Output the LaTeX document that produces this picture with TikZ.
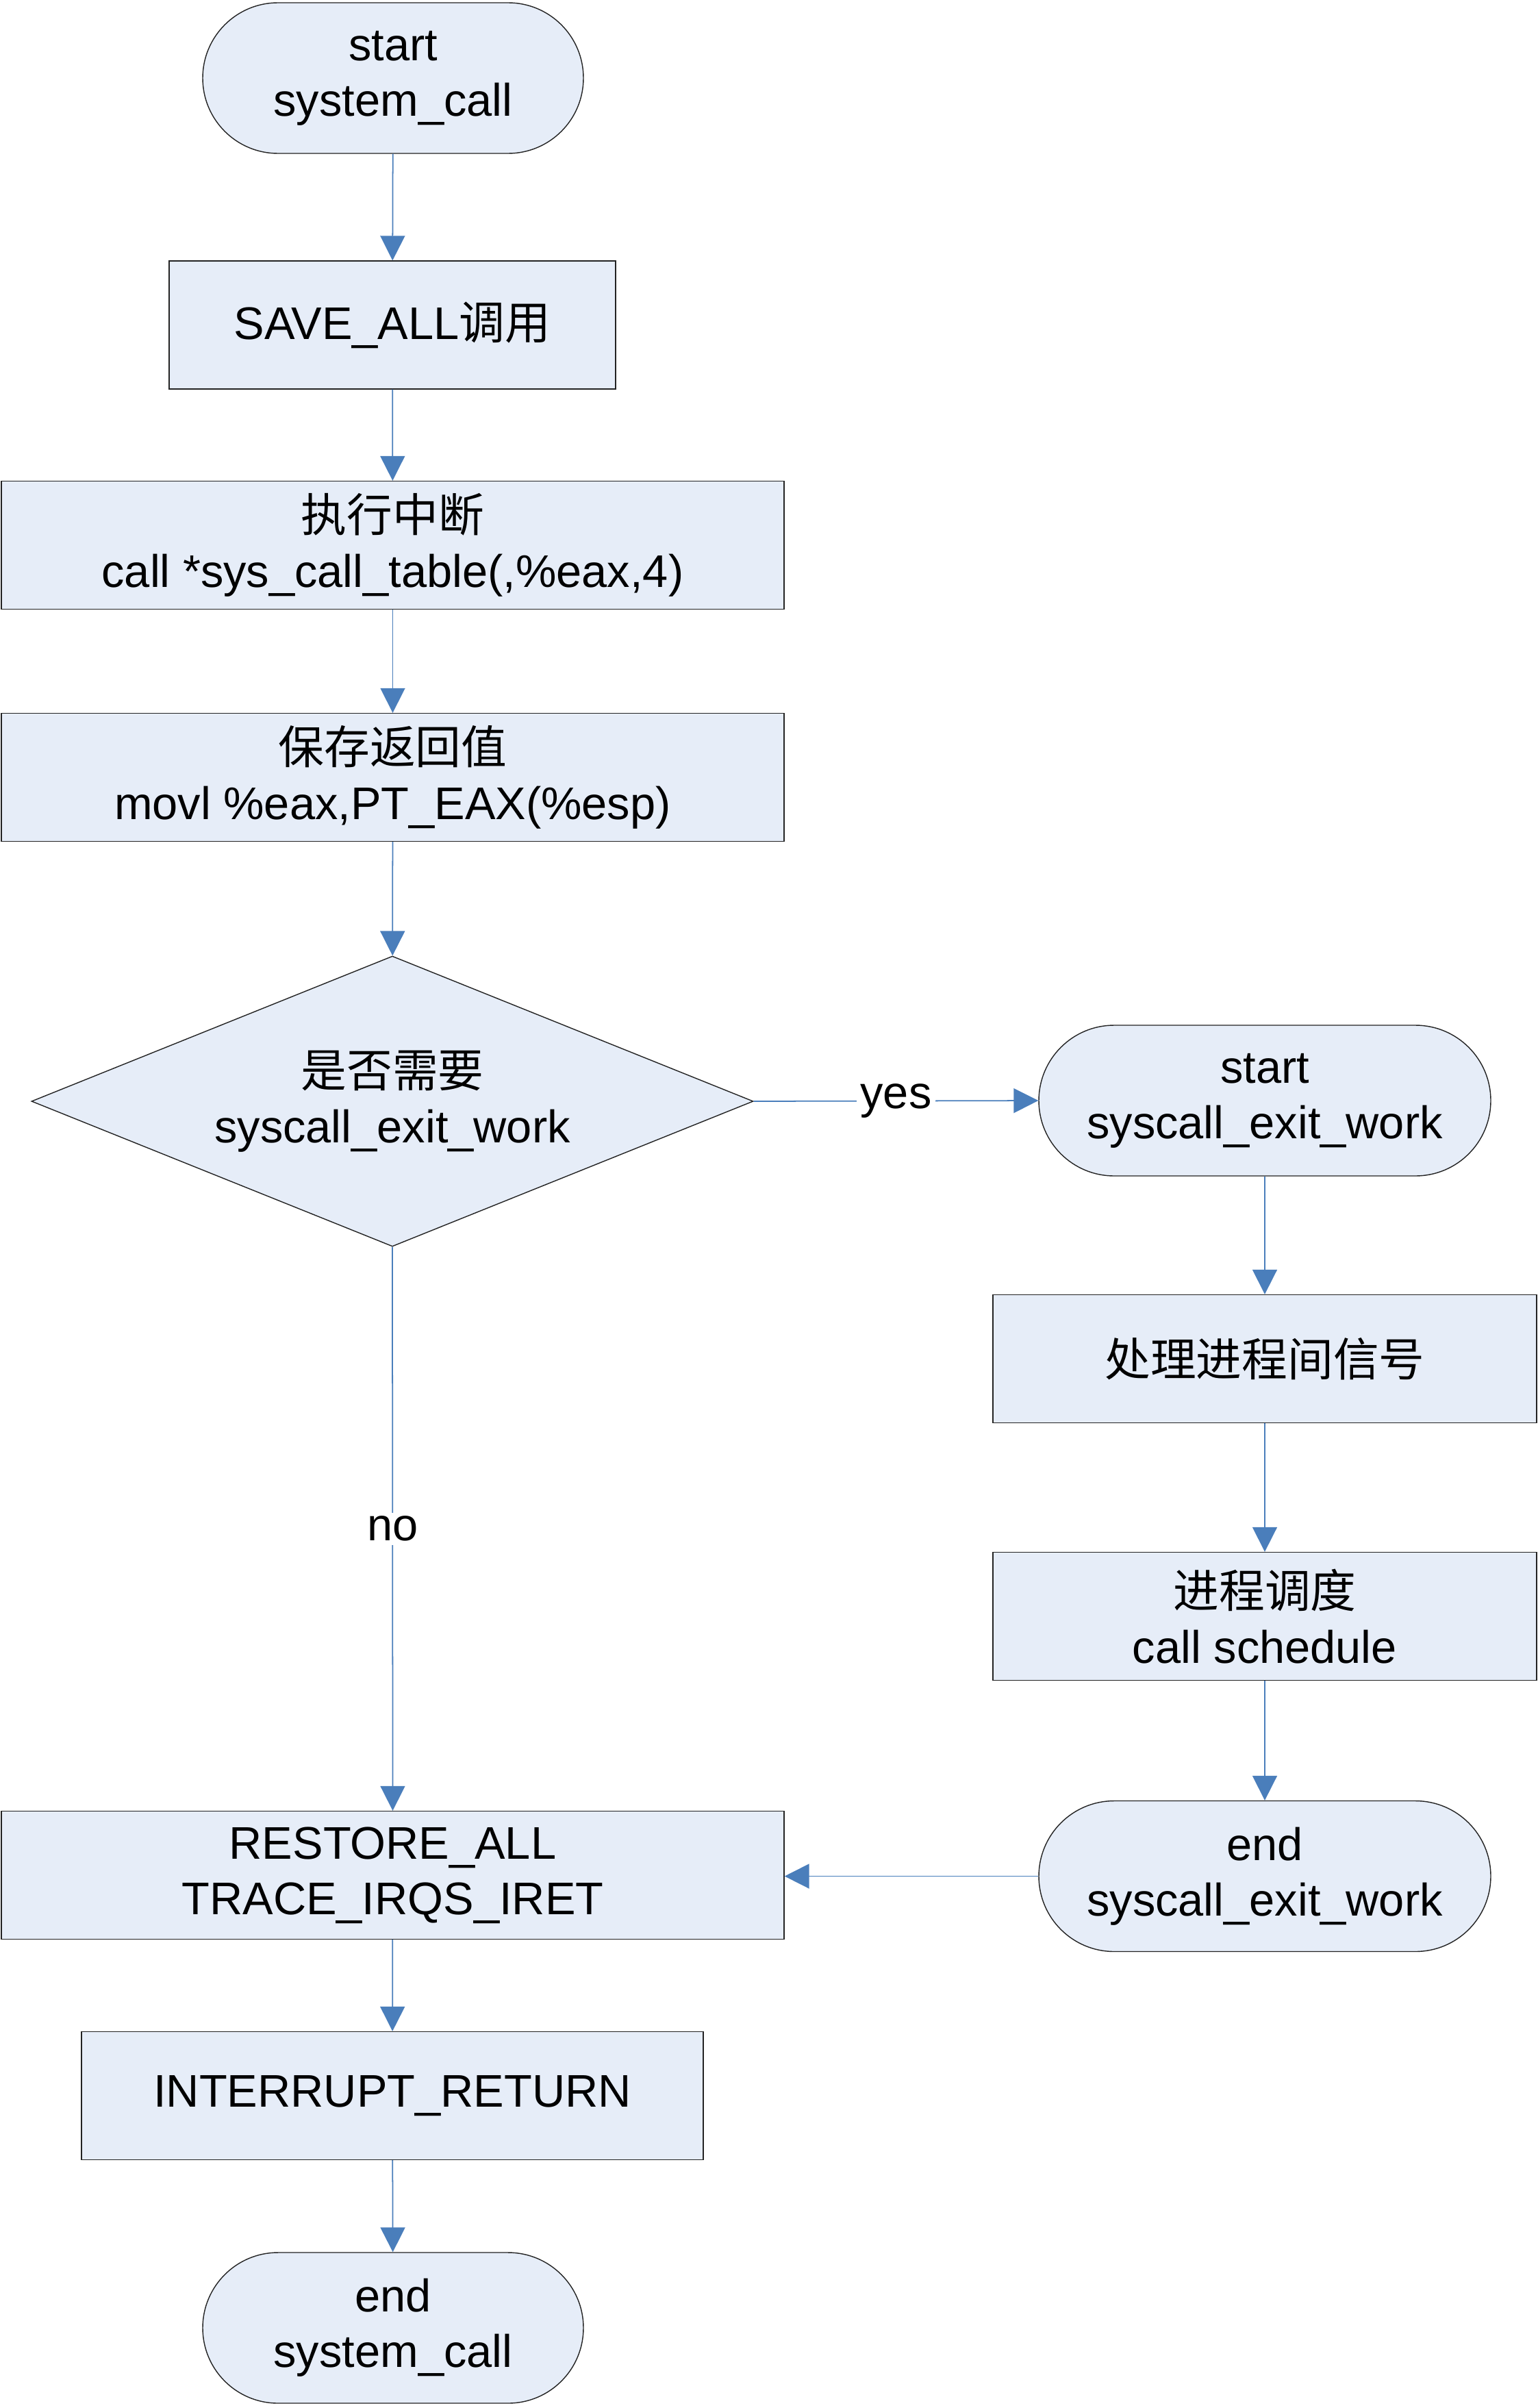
\documentclass[tikz,border=0pt]{standalone}
\usepackage{fontspec}
\setmainfont{Liberation Sans}
\newfontfamily\cjk{Noto Sans CJK SC}
\usepackage{xcolor}
\usepackage{tikz}
\usetikzlibrary{shapes.geometric, arrows.meta}
\definecolor{FlowFill}{RGB}{230, 237, 248}
\definecolor{FlowBlue}{RGB}{74, 126, 187}
\definecolor{FlowBorder}{RGB}{35, 35, 35}
\newcommand{\zh}[1]{{\cjk #1}}
\tikzset{
    flowtext/.style={align=center, font=\fontsize{19}{23}\selectfont, inner sep=0pt},
    termbox/.style={flowtext, draw=FlowBorder, fill=FlowFill, line width=0.4pt,
                    rounded corners=1.1cm, minimum height=2.2cm},
    procbox/.style={flowtext, draw=FlowBorder, fill=FlowFill, line width=0.4pt,
                    minimum height=1.87cm},
    decbox/.style={flowtext, diamond, draw=FlowBorder, fill=FlowFill, line width=0.4pt,
                   aspect=2.49, minimum width=10.54cm, minimum height=4.24cm},
    flowarrow/.style={draw=FlowBlue, line width=0.5pt, -{Triangle[length=0.36cm, width=0.36cm]}},
    flowlabel/.style={flowtext, fill=white, inner sep=1.5pt}
}

\begin{document}
\begin{tikzpicture}
    \useasboundingbox (0,0) rectangle (22.46,-35.16);

    \node[termbox, minimum width=5.56cm] (startsys) at (5.74,-1.14) {start\\system\_call};
    \node[procbox, minimum width=6.52cm] (saveall) at (5.73,-4.745) {SAVE\_ALL\zh{调用}};
    \node[procbox, minimum width=11.43cm] (execint) at (5.735,-7.96) {\zh{执行中断}\\call *sys\_call\_table(,\%eax,4)};
    \node[procbox, minimum width=11.43cm] (saveret) at (5.735,-11.35) {\zh{保存返回值}\\movl \%eax,PT\_EAX(\%esp)};
    \node[decbox] (needexit) at (5.73,-16.08) {\zh{是否需要}\\syscall\_exit\_work};
    \node[termbox, minimum width=6.6cm] (startexit) at (18.47,-16.07) {start\\syscall\_exit\_work};
    \node[procbox, minimum width=7.94cm] (signal) at (18.47,-19.84) {\zh{处理进程间信号}};
    \node[procbox, minimum width=7.94cm] (sched) at (18.47,-23.60) {\zh{进程调度}\\call schedule};
    \node[termbox, minimum width=6.6cm] (endexit) at (18.47,-27.395) {end\\syscall\_exit\_work};
    \node[procbox, minimum width=11.43cm] (restore) at (5.735,-27.38) {RESTORE\_ALL\\TRACE\_IRQS\_IRET};
    \node[procbox, minimum width=9.08cm] (iret) at (5.73,-30.60) {INTERRUPT\_RETURN};
    \node[termbox, minimum width=5.56cm] (endsys) at (5.74,-33.99) {end\\system\_call};

    \draw[flowarrow] (startsys) -- (saveall);
    \draw[flowarrow] (saveall) -- (execint);
    \draw[flowarrow] (execint) -- (saveret);
    \draw[flowarrow] (saveret) -- (needexit);
    \draw[flowarrow] (needexit.east) -- node[flowlabel] (yeslbl) {yes} (startexit.west);
    \draw[flowarrow] (needexit.south) -- node[flowlabel] (nolbl) {no} (restore.north);
    \draw[flowarrow] (startexit) -- (signal);
    \draw[flowarrow] (signal) -- (sched);
    \draw[flowarrow] (sched) -- (endexit);
    \draw[flowarrow] (endexit.west) -- (restore.east |- endexit.west);
    \draw[flowarrow] (restore) -- (iret);
    \draw[flowarrow] (iret) -- (endsys);
\end{tikzpicture}
\end{document}
